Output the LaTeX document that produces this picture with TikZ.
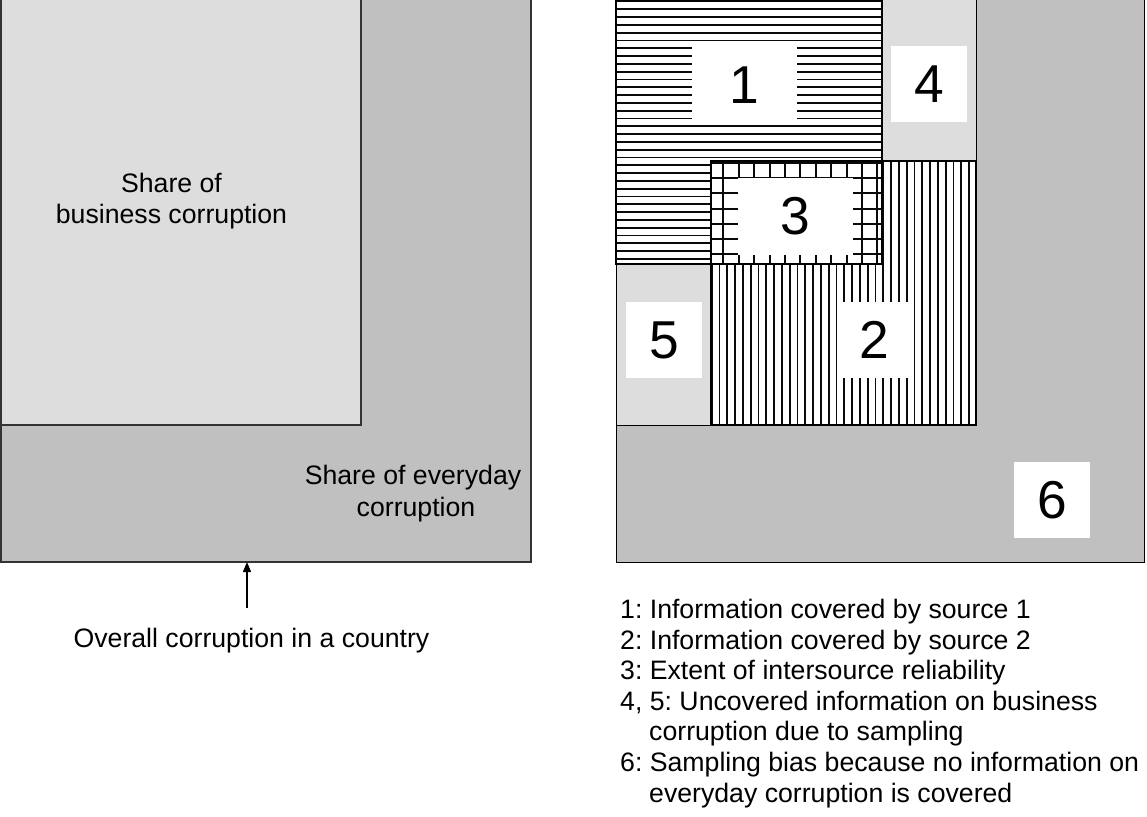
\documentclass[tikz,border=0pt]{standalone}
\usepackage{fontspec}
\setmainfont{Liberation Sans}
\usetikzlibrary{arrows.meta}
\definecolor{darkfill}{RGB}{192,192,192}
\definecolor{lightfill}{RGB}{221,221,221}
\definecolor{edgegray}{RGB}{51,51,51}
\definecolor{hatchcol}{RGB}{10,10,10}
\frenchspacing
\begin{document}
\begin{tikzpicture}[x=1pt,y=-1pt,
  txt/.style={font=\fontsize{26.67}{31}\selectfont, inner sep=0pt},
  digit/.style={font=\fontsize{53.33}{60}\selectfont, fill=white, inner sep=0pt},
  hatchline/.style={hatchcol, line width=1.7pt},
  gridline/.style={hatchcol, line width=2pt},
  srcbox/.style={black, line width=2.6pt},
  panelleft/.style={edgegray, line width=1.5pt},
  panelright/.style={black, line width=1pt}]
\useasboundingbox (0,0) rectangle (1147,816);
\clip (0,0) rectangle (1147,816);

% ---------- left panel ----------
\draw[panelleft, fill=darkfill] (1,-5) rectangle (531,562);
\draw[panelleft, fill=lightfill] (1,-5) rectangle (361,425);
\node[txt, anchor=base] (bus1) at (171.5,192) {Share of};
\node[txt, anchor=base] (bus2) at (171.5,223) {business corruption};
\node[txt, anchor=base] (eve1) at (413,484) {Share of everyday};
\node[txt, anchor=base] (eve2) at (416,516) {corruption};
\node[txt, anchor=base] (overall) at (251.5,647) {Overall corruption in a country};
\coordinate (arrowtail) at (247,608);
\coordinate (arrowtip) at (247,562);
\draw[black, line width=1.3pt, -{Triangle[length=10pt,width=8pt]}] (arrowtail) -- (arrowtip);

% ---------- right panel ----------
\draw[panelright, fill=darkfill] (616,-5) rectangle (1144,562);
\draw[panelright, fill=lightfill] (616,-5) rectangle (976,425);

% source 1: horizontal hatch
\fill[white] (616,1) rectangle (882,264);
\begin{scope}
  \clip (616,1) rectangle (882,264);
  \foreach \k in {0,...,34} \draw[hatchline] (616,{1.5+7.8*\k}) -- (882,{1.5+7.8*\k});
\end{scope}

% source 2: vertical hatch
\fill[white] (711,161) rectangle (976,425);
\begin{scope}
  \clip (711,161) rectangle (976,425);
  \foreach \k in {0,...,34} \draw[hatchline] ({711.7+7.8*\k},161) -- ({711.7+7.8*\k},425);
\end{scope}

% overlap: coarse grid
\fill[white] (711,161) rectangle (882,264);
\begin{scope}
  \clip (711,161) rectangle (882,264);
  \foreach \k in {0,...,10} \draw[gridline] ({723.3+15.4*\k},161) -- ({723.3+15.4*\k},264);
  \foreach \k in {0,...,6} \draw[gridline] (711,{163+15.2*\k}) -- (882,{163+15.2*\k});
\end{scope}

\draw[srcbox] (616,1) rectangle (882,264);
\draw[srcbox] (711,161) rectangle (976,425);

% number labels
\node[digit, minimum width=105pt, minimum height=77pt] (n1) at (744.5,85.5) {1};
\node[digit, minimum width=76pt, minimum height=76pt] (n4) at (929,84) {4};
\node[digit, minimum width=115pt, minimum height=77pt] (n3) at (795.5,216.5) {3};
\node[digit, minimum width=76pt, minimum height=76pt] (n5) at (664,340) {5};
\node[digit, minimum width=75pt, minimum height=76pt] (n2) at (874.5,340) {2};
\node[digit, minimum width=76pt, minimum height=76pt] (n6) at (1052,500) {6};

% legend
\node[txt, anchor=base west] (l1) at (620,618) {1: Information covered by source 1};
\node[txt, anchor=base west] (l2) at (620,649) {2: Information covered by source 2};
\node[txt, anchor=base west] (l3) at (620,679) {3: Extent of intersource reliability};
\node[txt, anchor=base west] (l4) at (620,710) {4, 5: Uncovered information on business};
\node[txt, anchor=base west] (l4b) at (649,740) {corruption due to sampling};
\node[txt, anchor=base west] (l6) at (620,771) {6: Sampling bias because no information on};
\node[txt, anchor=base west] (l6b) at (649,802) {everyday corruption is covered};
\end{tikzpicture}
\end{document}
